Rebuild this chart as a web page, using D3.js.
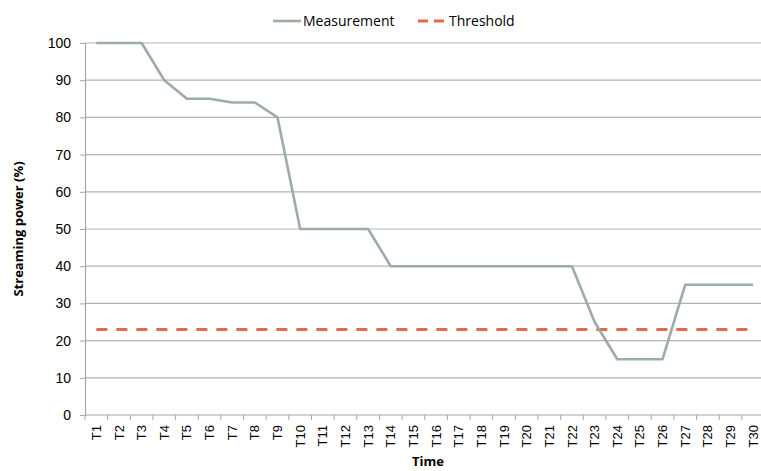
<!DOCTYPE html>
<html>
<head>
<meta charset="utf-8">
<script src="https://cdn.jsdelivr.net/npm/d3@7"></script>
<style>
body { margin:0; background:#fff; }
svg { display:block; }
</style>
</head>
<body>
<svg id="chart"></svg>
<script>
// chart data
var times = ["T1","T2","T3","T4","T5","T6","T7","T8","T9","T10","T11","T12","T13","T14","T15",
             "T16","T17","T18","T19","T20","T21","T22","T23","T24","T25","T26","T27","T28","T29","T30"]
var measurement = [100,100,100,90,85,85,84,84,80,50,50,50,50,40,40,
                   40,40,40,40,40,40,40,25,15,15,15,35,35,35,35]
var threshold = [23,23,23,23,23,23,23,23,23,23,23,23,23,23,23,
                 23,23,23,23,23,23,23,23,23,23,23,23,23,23,23]
var yTicks = [0,10,20,30,40,50,60,70,80,90,100]

var screen = {width:761, height:471}
var margins = {top:43, left:85, bottom:56}
var bandW = 22.65

var svg = d3.select("#chart")
    .attr("width",screen.width)
    .attr("height",screen.height)

var xScale = d3.scaleBand()
    .domain(times)
    .range([margins.left, margins.left + bandW*times.length])

var yScale = d3.scaleLinear()
    .domain([0,100])
    .range([screen.height - margins.bottom, margins.top])

var bottom = screen.height - margins.bottom

// gridlines
svg.append("g")
    .selectAll("line")
    .data(yTicks.filter(function(d){return d>0}))
    .enter()
    .append("line")
    .attr("x1",margins.left)
    .attr("x2",screen.width)
    .attr("y1",function(d){return yScale(d)})
    .attr("y2",function(d){return yScale(d)})
    .attr("stroke","#b3b3b3")
    .attr("stroke-width",1.2)

// y axis
var yAxis = d3.axisLeft(yScale).tickValues(yTicks).tickSize(5).tickPadding(9)
var yg = svg.append("g")
    .attr("transform","translate("+margins.left+",0)")
    .call(yAxis)
yg.select(".domain").attr("stroke","#a6a6a6").attr("stroke-width",1.2)
yg.selectAll(".tick line").attr("stroke","#a6a6a6")
yg.selectAll("text")
    .attr("font-family","Liberation Sans, Arial, sans-serif")
    .attr("font-size",14)
    .attr("fill","#000")

// x axis
var xAxis = d3.axisBottom(xScale).tickSize(0).tickPadding(0)
var xg = svg.append("g")
    .attr("transform","translate(0,"+bottom+")")
    .call(xAxis)
xg.select(".domain").remove()
xg.append("line")
    .attr("x1",margins.left).attr("x2",screen.width)
    .attr("stroke","#a6a6a6").attr("stroke-width",1.2)
xg.selectAll(".edge")
    .data(d3.range(times.length+1))
    .enter()
    .append("line")
    .attr("x1",function(i){return margins.left + i*xScale.step()})
    .attr("x2",function(i){return margins.left + i*xScale.step()})
    .attr("y1",0).attr("y2",5)
    .attr("stroke","#a6a6a6")
xg.selectAll(".tick text")
    .attr("font-family","Liberation Sans, Arial, sans-serif")
    .attr("font-size",13)
    .attr("fill","#000")
    .attr("text-anchor","end")
    .attr("dy","0.35em")
    .attr("transform","translate(0,10) rotate(-90)")
    .attr("y",0)
    .attr("x",0)

// lines
var line = d3.line()
    .x(function(d,i){return xScale(times[i]) + xScale.bandwidth()/2})
    .y(function(d){return yScale(d)})

svg.append("path")
    .datum(threshold)
    .attr("d",line)
    .attr("fill","none")
    .attr("stroke","#e5694c")
    .attr("stroke-width",3)
    .attr("stroke-dasharray","11,9")

svg.append("path")
    .datum(measurement)
    .attr("d",line)
    .attr("fill","none")
    .attr("stroke","#9dada3")
    .attr("stroke-width",2.6)
    .attr("stroke-linejoin","round")

// axis titles
svg.append("text")
    .attr("transform","translate(23,"+((margins.top+bottom)/2)+") rotate(-90)")
    .attr("text-anchor","middle")
    .attr("font-family","Open Sans, sans-serif")
    .attr("font-weight","bold")
    .attr("font-size",13)
    .text("Streaming power (%)")

svg.append("text")
    .attr("x",428)
    .attr("y",466)
    .attr("text-anchor","middle")
    .attr("font-family","Open Sans, sans-serif")
    .attr("font-weight","bold")
    .attr("font-size",13)
    .text("Time")

// legend
var legend = svg.append("g").attr("id","legend")
legend.append("line")
    .attr("x1",273).attr("x2",301).attr("y1",21).attr("y2",21)
    .attr("stroke","#9dada3").attr("stroke-width",2.6)
legend.append("text")
    .attr("x",303).attr("y",26)
    .attr("font-family","Open Sans, sans-serif")
    .attr("font-size",14)
    .text("Measurement")
legend.append("line")
    .attr("x1",418).attr("x2",446).attr("y1",21).attr("y2",21)
    .attr("stroke","#e5694c").attr("stroke-width",3)
    .attr("stroke-dasharray","10,6")
legend.append("text")
    .attr("x",449).attr("y",26)
    .attr("font-family","Open Sans, sans-serif")
    .attr("font-size",14)
    .text("Threshold")
</script>
</body>
</html>
